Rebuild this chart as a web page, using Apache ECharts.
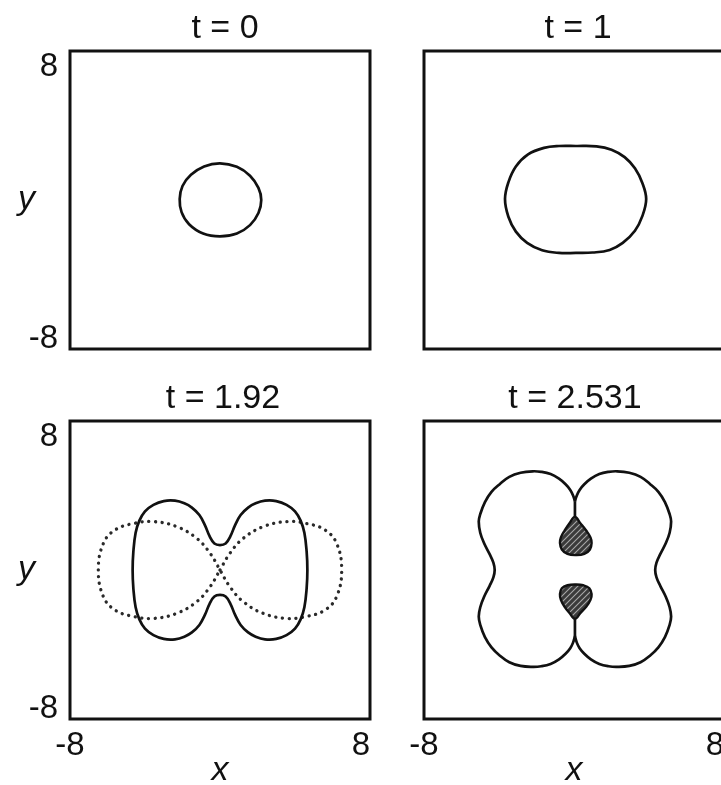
<!DOCTYPE html>
<html>
<head>
<meta charset="utf-8">
<script src="https://cdn.jsdelivr.net/npm/echarts@6/dist/echarts.min.js"></script>
<style>
  html, body { margin: 0; padding: 0; background: #fff; }
  #chart { width: 721px; height: 785px; }
</style>
</head>
<body>
<div id="chart"></div>
<script>
// panel titles and axis range
var panelTitles = ['t = 0', 't = 1', 't = 1.92', 't = 2.531'];
var axisMin = -8, axisMax = 8;

// t = 0 : small closed front
var frontT0 = [[0,1.97],[0.9,1.78],[1.6,1.3],[2.05,0.65],[2.2,0],[2.05,-0.7],[1.6,-1.35],[0.9,-1.8],[0,-1.95],
  [-0.9,-1.8],[-1.65,-1.3],[-2.05,-0.65],[-2.15,0.05],[-2.0,0.75],[-1.55,1.35],[-0.85,1.8]];

// t = 1 : flattened front
var frontT1 = [[0.1,2.9],[1.2,2.88],[2.0,2.7],[2.7,2.3],[3.25,1.7],[3.65,0.9],[3.85,0.05],[3.65,-0.85],[3.25,-1.65],
  [2.6,-2.3],[1.9,-2.68],[1.0,-2.82],[0.1,-2.84],[-0.8,-2.84],[-1.7,-2.7],[-2.5,-2.3],[-3.1,-1.7],[-3.5,-0.9],
  [-3.68,0.05],[-3.5,0.95],[-3.1,1.8],[-2.45,2.45],[-1.6,2.8],[-0.8,2.9]];

// t = 1.92 : solid peanut front
var frontT192 = [[0,1.34],[0.3,1.42],[0.55,1.8],[0.8,2.4],[1.1,2.95],[1.5,3.35],[1.9,3.58],[2.4,3.72],[3.0,3.7],
  [3.55,3.5],[4.0,3.15],[4.3,2.65],[4.5,2.0],[4.62,1.0],[4.66,0],[4.62,-1.0],[4.5,-2.0],[4.3,-2.65],[4.0,-3.15],
  [3.55,-3.5],[3.0,-3.7],[2.4,-3.72],[1.9,-3.58],[1.5,-3.35],[1.1,-2.95],[0.8,-2.4],[0.55,-1.8],[0.3,-1.42],
  [0,-1.34],[-0.3,-1.42],[-0.55,-1.8],[-0.8,-2.4],[-1.1,-2.95],[-1.5,-3.35],[-1.9,-3.58],[-2.4,-3.72],[-3.0,-3.7],
  [-3.55,-3.5],[-4.0,-3.15],[-4.3,-2.65],[-4.5,-2.0],[-4.62,-1.0],[-4.66,0],[-4.62,1.0],[-4.5,2.0],[-4.3,2.65],
  [-4.0,3.15],[-3.55,3.5],[-3.0,3.7],[-2.4,3.72],[-1.9,3.58],[-1.5,3.35],[-1.1,2.95],[-0.8,2.4],[-0.55,1.8],[-0.3,1.42]];

// t = 1.92 : dotted figure-eight
var dottedT192 = [[0,0],[0.53,0.9],[1.24,1.7],[2.31,2.33],[3.56,2.6],[4.6,2.5],[5.6,2.15],[6.22,1.43],[6.49,0],
  [6.22,-1.43],[5.6,-2.15],[4.6,-2.5],[3.56,-2.6],[2.31,-2.33],[1.24,-1.7],[0.53,-0.9],[0,0],[-0.53,0.9],
  [-1.24,1.7],[-2.31,2.33],[-3.56,2.6],[-4.6,2.5],[-5.6,2.15],[-6.22,1.43],[-6.49,0],[-6.22,-1.43],[-5.6,-2.15],
  [-4.6,-2.5],[-3.56,-2.6],[-2.31,-2.33],[-1.24,-1.7],[-0.53,-0.9]];

// t = 2.531 : four-lobed front, right and left halves (cusp to cusp)
var rightHalfT2531 = [[0.05,3.7],[0.15,4.0],[0.3,4.3],[0.55,4.6],[0.9,4.9],[1.35,5.15],[1.85,5.27],[2.3,5.3],
  [2.95,5.22],[3.55,5.0],[4.05,4.62],[4.5,4.2],[4.85,3.65],[5.1,3.0],[5.18,2.6],[5.1,2.0],[4.9,1.45],[4.6,0.85],
  [4.4,0.4],[4.33,0],[4.4,-0.4],[4.6,-0.85],[4.9,-1.45],[5.1,-2.0],[5.18,-2.5],[5.1,-2.95],[4.85,-3.6],
  [4.5,-4.15],[4.05,-4.6],[3.55,-4.95],[2.95,-5.15],[2.3,-5.2],[1.85,-5.17],[1.35,-5.05],[0.9,-4.8],[0.55,-4.5],
  [0.3,-4.2],[0.15,-3.9],[0.05,-3.55]];
var leftHalfT2531 = [[0.05,3.7],[-0.05,4.0],[-0.2,4.3],[-0.45,4.6],[-0.8,4.9],[-1.25,5.15],[-1.75,5.27],[-2.2,5.3],
  [-2.85,5.22],[-3.45,5.0],[-3.95,4.62],[-4.4,4.2],[-4.75,3.65],[-5.0,3.0],[-5.08,2.6],[-5.0,2.0],[-4.8,1.45],
  [-4.5,0.85],[-4.3,0.4],[-4.23,0],[-4.3,-0.4],[-4.5,-0.85],[-4.8,-1.45],[-5.0,-2.0],[-5.08,-2.5],[-5.0,-2.95],
  [-4.75,-3.6],[-4.4,-4.15],[-3.95,-4.6],[-3.45,-4.95],[-2.85,-5.15],[-2.2,-5.2],[-1.75,-5.17],[-1.25,-5.05],
  [-0.8,-4.8],[-0.45,-4.5],[-0.2,-4.2],[-0.05,-3.9],[0.05,-3.55]];
var stemTopT2531 = [[0.05,3.7],[0.05,2.75]];
var stemBottomT2531 = [[0.05,-3.55],[0.05,-2.55]];
var dropTopT2531 = [[0.05,2.85],[0.35,2.5],[0.65,2.12],[0.88,1.75],[0.94,1.45],[0.85,1.1],[0.55,0.86],[0.1,0.8],
  [-0.35,0.86],[-0.65,1.1],[-0.75,1.45],[-0.7,1.75],[-0.5,2.12],[-0.25,2.5]];
var dropBottomT2531 = [[0.05,-2.62],[0.35,-2.3],[0.65,-1.98],[0.88,-1.6],[0.94,-1.3],[0.82,-0.98],[0.5,-0.82],
  [0.1,-0.78],[-0.35,-0.82],[-0.65,-0.98],[-0.75,-1.3],[-0.7,-1.6],[-0.5,-1.98],[-0.25,-2.3]];

var font = '"Liberation Sans", Arial, sans-serif';
var ink = '#111';

// hatch pattern for the shaded drops
var hatch = document.createElement('canvas');
hatch.width = 6; hatch.height = 6;
var hc = hatch.getContext('2d');
hc.fillStyle = '#3a3a3a';
hc.fillRect(0, 0, 6, 6);
hc.strokeStyle = '#a8a8a8';
hc.lineWidth = 1.1;
hc.beginPath();
hc.moveTo(0, 6); hc.lineTo(6, 0);
hc.moveTo(-1, 1); hc.lineTo(1, -1);
hc.moveTo(5, 7); hc.lineTo(7, 5);
hc.stroke();

var gridLeft = [70, 424, 70, 424];
var gridTop = [51, 51, 421, 421];
var titleCenter = [220, 573, 218, 570];

function shape(idx, pts, kind, style, smooth) {
  return {
    type: 'custom',
    xAxisIndex: idx,
    yAxisIndex: idx,
    silent: true,
    data: pts,
    renderItem: function (params, api) {
      if (params.dataIndex !== 0) return null;
      var coords = pts.map(function (p) { return api.coord(p); });
      return { type: kind, shape: { points: coords, smooth: smooth }, style: style };
    }
  };
}

var solid = { fill: 'none', stroke: ink, lineWidth: 2.7 };
var dotted = { fill: 'none', stroke: '#2a2a2a', lineWidth: 3.3, lineDash: [0.1, 6.6], lineCap: 'round' };
var hatched = { fill: { image: hatch, repeat: 'repeat' }, stroke: ink, lineWidth: 2.4 };

var labelText = { fontSize: 33, color: ink, fontFamily: font };

var chart = echarts.init(document.getElementById('chart'), null, { renderer: 'canvas' });
var option = {
  backgroundColor: '#fff',
  animation: false,
  title: panelTitles.map(function (t, i) {
    return {
      text: t,
      left: titleCenter[i],
      top: gridTop[i] - 44,
      textAlign: 'center',
      textStyle: { fontSize: 34, fontWeight: 'normal', color: ink, fontFamily: font }
    };
  }),
  grid: gridLeft.map(function (l, i) {
    return {
      left: l, top: gridTop[i], width: 300, height: 298,
      show: true, borderColor: ink, borderWidth: 3,
      containLabel: false, outerBoundsMode: 'none'
    };
  }),
  xAxis: gridLeft.map(function (l, i) {
    var bottom = i >= 2;
    return {
      type: 'value', gridIndex: i, min: axisMin, max: axisMax, interval: 16,
      axisLine: { show: false }, axisTick: { show: false }, splitLine: { show: false },
      axisLabel: {
        show: bottom, fontSize: 33, lineHeight: 24, color: ink, fontFamily: font, margin: 15,
        alignMaxLabel: 'right'
      },
      name: bottom ? 'x' : '', nameLocation: 'middle', nameGap: 38, nameMoveOverlap: false,
      nameTextStyle: { fontSize: 34, lineHeight: 28, fontStyle: 'italic', color: ink, fontFamily: font }
    };
  }),
  yAxis: gridLeft.map(function (l, i) {
    var left = i % 2 === 0;
    return {
      type: 'value', gridIndex: i, min: axisMin, max: axisMax, interval: 16,
      axisLine: { show: false }, axisTick: { show: false }, splitLine: { show: false },
      axisLabel: {
        show: left, color: ink, fontFamily: font, fontSize: 33, margin: 12,
        verticalAlignMaxLabel: 'top', verticalAlignMinLabel: 'bottom',
        formatter: function (v) { return v === axisMax ? '{hi|' + v + '}' : '{lo|' + v + '}'; },
        rich: {
          hi: Object.assign({ lineHeight: 32 }, labelText),
          lo: Object.assign({ lineHeight: 20 }, labelText)
        }
      },
      name: left ? 'y' : '', nameLocation: 'middle', nameGap: 35, nameRotate: 0, nameMoveOverlap: false,
      nameTextStyle: { fontSize: 34, fontStyle: 'italic', color: ink, fontFamily: font }
    };
  }),
  series: [
    shape(0, frontT0, 'polygon', solid, 0.4),
    shape(1, frontT1, 'polygon', solid, 0.4),
    shape(2, dottedT192, 'polygon', dotted, 0.4),
    shape(2, frontT192, 'polygon', solid, 0.4),
    shape(3, rightHalfT2531, 'polyline', solid, 0.4),
    shape(3, leftHalfT2531, 'polyline', solid, 0.4),
    shape(3, stemTopT2531, 'polyline', solid, 0),
    shape(3, stemBottomT2531, 'polyline', solid, 0),
    shape(3, dropTopT2531, 'polygon', hatched, 0.4),
    shape(3, dropBottomT2531, 'polygon', hatched, 0.4)
  ]
};
chart.setOption(option);
</script>
</body>
</html>
